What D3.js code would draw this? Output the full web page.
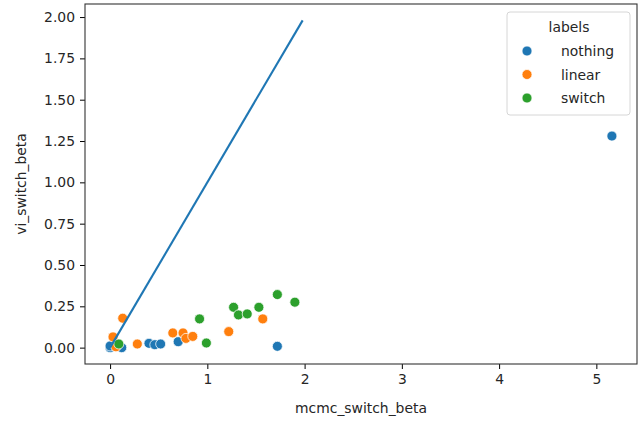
<!DOCTYPE html>
<html>
<head>
<meta charset="utf-8">
<script src="https://cdn.jsdelivr.net/npm/d3@7"></script>
<style>
    body { margin: 0; background: #fff; }
    svg { display: block; font-family: "DejaVu Sans", sans-serif; }
</style>
</head>
<body>
<svg id="chart" width="640" height="423"></svg>
<script>
// Values
const labels = ["nothing", "linear", "switch"];
const colors = ["#1f77b4", "#ff7f0e", "#2ca02c"];

const nothingX = [0.00, 0.00, 0.12, 0.40, 0.46, 0.52, 0.70, 1.72, 5.16];
const nothingY = [0.00, 0.01, 0.00, 0.026, 0.018, 0.022, 0.036, 0.008, 1.28];

const linearX = [0.13, 0.03, 0.06, 0.28, 0.645, 0.75, 0.78, 0.85, 1.22, 1.57];
const linearY = [0.178, 0.065, 0.005, 0.022, 0.089, 0.089, 0.056, 0.068, 0.097, 0.174];

const switchX = [0.09, 0.92, 0.99, 1.27, 1.32, 1.41, 1.53, 1.72, 1.90];
const switchY = [0.022, 0.174, 0.028, 0.244, 0.198, 0.204, 0.244, 0.321, 0.275];

const lineX = [0.0, 1.98];
const lineY = [0.0, 1.98];

const xTicks = [0, 1, 2, 3, 4, 5];
const yTicks = [0, 0.25, 0.5, 0.75, 1.0, 1.25, 1.5, 1.75, 2.0];

const margin = {top: 4, right: 3, bottom: 59, left: 85};
const width = 640, height = 423;

const svg = d3.select("#chart");

let x = d3.scaleLinear().domain([-0.258, 5.418]).range([margin.left, width - margin.right]);
let y = d3.scaleLinear().domain([-0.099, 2.079]).range([height - margin.bottom, margin.top]);

// Axes
let xAxis = svg.append("g")
    .attr("transform", `translate(0,${height - margin.bottom})`)
    .call(d3.axisBottom(x).tickValues(xTicks).tickFormat(d3.format("d")).tickSize(5).tickPadding(5));

let yAxis = svg.append("g")
    .attr("transform", `translate(${margin.left},0)`)
    .call(d3.axisLeft(y).tickValues(yTicks).tickFormat(d3.format(".2f")).tickSize(5).tickPadding(5));

[xAxis, yAxis].forEach(a => {
    a.select(".domain").remove();
    a.selectAll("line").attr("stroke", "#000").attr("stroke-width", 1);
    a.selectAll("text").attr("font-size", "13.9px").attr("fill", "#262626").attr("font-family", "DejaVu Sans");
});

// Frame
svg.append("rect")
    .attr("x", margin.left)
    .attr("y", margin.top)
    .attr("width", width - margin.right - margin.left)
    .attr("height", height - margin.bottom - margin.top)
    .attr("fill", "none")
    .attr("stroke", "#333")
    .attr("stroke-width", 1.1);

// Axis labels
svg.append("text")
    .attr("x", (margin.left + width - margin.right) / 2)
    .attr("y", 413)
    .attr("text-anchor", "middle")
    .attr("font-size", "13.9px")
    .attr("fill", "#262626")
    .text("mcmc_switch_beta");

svg.append("text")
    .attr("transform", `translate(26,${(margin.top + height - margin.bottom) / 2}) rotate(-90)`)
    .attr("text-anchor", "middle")
    .attr("font-size", "13.9px")
    .attr("fill", "#262626")
    .text("vi_switch_beta");

// Points
const series = [
    {xs: nothingX, ys: nothingY},
    {xs: linearX, ys: linearY},
    {xs: switchX, ys: switchY}
];

series.forEach((s, i) => {
    svg.append("g").selectAll("circle")
        .data(s.xs.map((v, j) => [v, s.ys[j]]))
        .enter()
        .append("circle")
        .attr("cx", d => x(d[0]))
        .attr("cy", d => y(d[1]))
        .attr("r", 5)
        .attr("fill", colors[i])
        .attr("stroke", "#fff")
        .attr("stroke-width", 0.75);
});

// Identity line
svg.append("path")
    .datum(lineX.map((v, j) => [v, lineY[j]]))
    .attr("d", d3.line().x(d => x(d[0])).y(d => y(d[1])))
    .attr("fill", "none")
    .attr("stroke", "#1f77b4")
    .attr("stroke-width", 2.1);

// Legend
let legend = svg.append("g").attr("transform", "translate(507,12)");

legend.append("rect")
    .attr("width", 123)
    .attr("height", 103)
    .attr("rx", 3)
    .attr("fill", "#fff")
    .attr("fill-opacity", 0.8)
    .attr("stroke", "#d6d6d6")
    .attr("stroke-width", 1);

legend.append("text")
    .attr("x", 62)
    .attr("y", 20)
    .attr("text-anchor", "middle")
    .attr("font-size", "13.9px")
    .attr("fill", "#262626")
    .text("labels");

labels.forEach((name, i) => {
    let row = legend.append("g").attr("transform", `translate(0,${39 + i * 23.5})`);
    row.append("circle")
        .attr("cx", 20)
        .attr("cy", 0)
        .attr("r", 5)
        .attr("fill", colors[i])
        .attr("stroke", "#fff")
        .attr("stroke-width", 0.75);
    row.append("text")
        .attr("x", 54)
        .attr("y", 5)
        .attr("font-size", "13.9px")
        .attr("fill", "#262626")
        .text(name);
});
</script>
</body>
</html>
